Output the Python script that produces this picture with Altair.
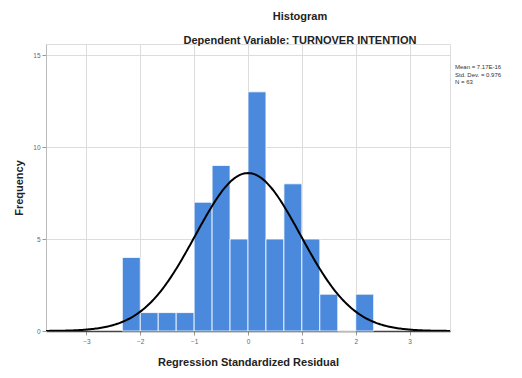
import altair as alt
import pandas as pd

# Histogram bins (Regression Standardized Residual) and frequencies
bin_start = [-2.3333, -2.0, -1.6667, -1.3333, -1.0, -0.6667, -0.3333, 0.0, 0.3333, 0.6667, 1.0, 1.3333, 1.6667, 2.0]
bin_end = [-2.0, -1.6667, -1.3333, -1.0, -0.6667, -0.3333, 0.0, 0.3333, 0.6667, 1.0, 1.3333, 1.6667, 2.0, 2.3333]
frequency = [4, 1, 1, 1, 7, 9, 5, 13, 5, 8, 5, 2, 0, 2]

# Summary statistics shown in the legend
mean_val = 0.0
std_dev = 0.976
n_obs = 63
bin_width = 1 / 3
stat_lines = ["Mean = 7.17E-16", "Std. Dev. = 0.976", "N = 63"]

x_ticks = [-3, -2, -1, 0, 1, 2, 3]
y_ticks = [0, 5, 10, 15]

W, H = 404, 287
FONT = "Liberation Sans"

hist_df = pd.DataFrame({"x0": bin_start, "x1": bin_end, "freq": frequency,
                        "base": [0] * len(frequency)})
stats_df = pd.DataFrame({"line": stat_lines, "idx": [0, 1, 2]})

xscale = alt.Scale(domain=[-3.75, 3.75], nice=False, zero=False)
yscale = alt.Scale(domain=[0, 15.6], nice=False)

bars = alt.Chart(hist_df).mark_rect(color="#4a89dc", stroke="white", strokeWidth=0.8).encode(
    x=alt.X("x0:Q", scale=xscale,
            axis=alt.Axis(values=x_ticks, format="d", title="Regression Standardized Residual",
                          grid=True, gridColor="#dcdcdc", gridWidth=1,
                          labelFontSize=6.5, labelColor="#666666", labelFont=FONT,
                          titleFont=FONT, titleFontSize=11, titleFontWeight="bold",
                          titleColor="#222222", titlePadding=12,
                          domainColor="#444444", domainWidth=1.5,
                          tickColor="#999999", tickSize=4, labelPadding=3)),
    x2="x1:Q",
    y=alt.Y("freq:Q", scale=yscale,
            axis=alt.Axis(values=y_ticks, format="d", title="Frequency",
                          grid=True, gridColor="#dcdcdc", gridWidth=1,
                          labelFontSize=6.5, labelColor="#666666", labelFont=FONT,
                          titleFont=FONT, titleFontSize=11, titleFontWeight="bold",
                          titleColor="#222222", titlePadding=8,
                          domainColor="#bbbbbb", tickColor="#999999", tickSize=4,
                          labelPadding=2)),
    y2="base:Q",
)

curve = alt.Chart(alt.sequence(-3.75, 3.76, 0.025, as_="x")).transform_calculate(
    density=f"{n_obs * bin_width} / ({std_dev} * sqrt(2 * PI)) * exp(-0.5 * pow((datum.x - {mean_val}) / {std_dev}, 2))"
).mark_line(color="black", strokeWidth=2, clip=True).encode(
    x=alt.X("x:Q", scale=xscale),
    y=alt.Y("density:Q", scale=yscale),
)

stats = alt.Chart(stats_df).transform_calculate(
    ypix="23 + datum.idx * 7.5"
).mark_text(
    align="left", baseline="middle", fontSize=6, font=FONT, color="#333333"
).encode(
    x=alt.value(W + 5),
    y=alt.Y("ypix:Q", scale=alt.Scale(domain=[0, H], range=[0, H]), axis=None),
    text="line:N",
)

main = alt.layer(bars, curve)

chart = alt.layer(main, stats).resolve_scale(y="independent").properties(
    width=W, height=H,
    title=alt.TitleParams(
        text="Histogram",
        subtitle="Dependent Variable: TURNOVER INTENTION",
        anchor="middle", dx=52, offset=-2,
        font=FONT, fontSize=11, fontWeight="bold", color="#222222",
        subtitleFont=FONT, subtitleFontSize=11, subtitleFontWeight="bold",
        subtitleColor="#222222", subtitlePadding=13,
    ),
    autosize=alt.AutoSizeParams(type="none"),
    padding={"left": 38, "top": 36, "right": 64, "bottom": 39},
).configure_view(stroke=None).configure(background="white")

chart.save("out.html", embed_options={"renderer": "svg", "actions": False})
